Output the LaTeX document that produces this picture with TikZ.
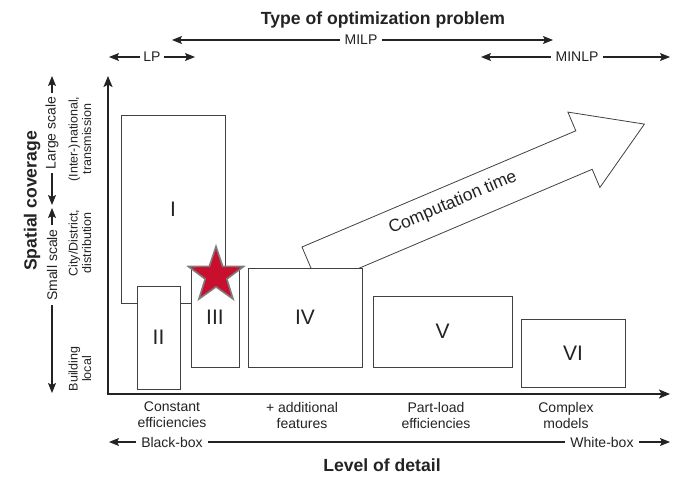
\documentclass[tikz,border=0pt]{standalone}
\usepackage{fontspec}
\setmainfont{Liberation Sans}
\usetikzlibrary{arrows.meta,shapes.geometric}
\definecolor{ink}{RGB}{35,35,35}
\definecolor{boxline}{RGB}{65,65,65}
\definecolor{starred}{RGB}{200,16,46}
\definecolor{stargray}{RGB}{125,125,125}
\begin{document}
\begin{tikzpicture}[x=1pt,y=-1pt,
  lbl/.style={font=\fontsize{14}{16}\selectfont, text=ink, inner sep=0pt},
  small/.style={font=\fontsize{12.5}{13.5}\selectfont, text=ink, inner sep=0pt},
  ttl/.style={font=\fontsize{17.6}{20}\selectfont\bfseries, text=ink, inner sep=0pt},
  num/.style={font=\fontsize{21}{24}\selectfont, text=ink},
  tipa/.tip={Stealth[length=10pt,width=8pt,inset=2pt]},
  rangearrow/.style={draw=ink, line width=1.1pt, tipa-tipa},
  gaplbl/.style={lbl, fill=white, inner xsep=5pt, inner ysep=1pt},
  region/.style={draw=boxline, line width=1pt, fill=white, num, inner sep=0pt},
  axisline/.style={draw=ink, line width=2pt, line join=miter,
    {Stealth[length=11pt,width=9pt,inset=2.5pt]}-{Stealth[length=11pt,width=9pt,inset=2.5pt]}},
  bigarrow/.style={draw=boxline, line width=0.8pt, fill=white, line join=miter},
]
\useasboundingbox (0,0) rectangle (694,492);

% ---------- top: type of optimization problem ----------
\node[ttl] (title) at (383,20) {Type of optimization problem};
\coordinate (milpL) at (172,40);
\coordinate (milpR) at (553,40);
\draw[rangearrow] (milpL) -- (milpR);
\node[gaplbl] (milp) at (361,40) {MILP};
\coordinate (lpL) at (109,57);
\coordinate (lpR) at (195,57);
\draw[rangearrow] (lpL) -- (lpR);
\node[gaplbl, inner xsep=3pt] (lp) at (152,57) {LP};
\coordinate (minlpL) at (481,57);
\coordinate (minlpR) at (670,57);
\draw[rangearrow] (minlpL) -- (minlpR);
\node[gaplbl] (minlp) at (577,57) {MINLP};

% ---------- axes ----------
\coordinate (O) at (108,394);
\coordinate (ytop) at (108,76);
\coordinate (xend) at (670,394);
\draw[axisline] (ytop) -- (O) -- (xend);

% ---------- left: spatial coverage ----------
\node[ttl, rotate=90] (ylabel) at (32,201) {Spatial coverage};
\coordinate (ssB) at (52,393);
\coordinate (ssT) at (52,208);
\draw[rangearrow] (ssB) -- (ssT);
\node[gaplbl, rotate=90, inner xsep=4pt] (smallscale) at (52,265) {Small scale};
\coordinate (lsB) at (52,205);
\coordinate (lsT) at (52,76);
\draw[rangearrow] (lsB) -- (lsT);
\node[gaplbl, rotate=90, inner xsep=4pt] (largescale) at (52,133) {Large scale};
\node[small, rotate=90, align=center] (natl) at (80,139) {(Inter-)national,\\transmission};
\node[small, rotate=90, align=center] (city) at (80,243) {City/District,\\distribution};
\node[small, rotate=90, align=center] (bldg) at (80,369) {Building\\local};

% ---------- bottom: level of detail ----------
\node[lbl, align=center] (const) at (172,415) {Constant\\efficiencies};
\node[lbl, align=center] (addf) at (302,415) {+ additional\\features};
\node[lbl, align=center] (partl) at (436,415) {Part-load\\efficiencies};
\node[lbl, align=center] (cplx) at (566,415) {Complex\\models};
\coordinate (bbL) at (109,442);
\coordinate (bbR) at (670,442);
\draw[rangearrow] (bbL) -- (bbR);
\node[gaplbl] (blackbox) at (172,442) {Black-box};
\node[gaplbl] (whitebox) at (602,442) {White-box};
\node[ttl] (xlabel) at (382,465) {Level of detail};

% ---------- computation time arrow ----------
\draw[bigarrow] (302,247) -- (575.8,130.8) -- (567.9,112.1) -- (644.4,124.1)
  -- (599.9,187.5) -- (592.2,169.3) -- (318.4,285.5) -- cycle;
\node[lbl, rotate=23, font=\fontsize{17.5}{20}\selectfont] (comptime) at (453,203) {Computation time};

% ---------- regions ----------
\node[region, minimum width=104pt, minimum height=187pt] (I) at (173,209.5) {I};
\node[region, minimum width=43pt, minimum height=103pt] (II) at (158.5,337.5) {II};
\node[region, minimum width=48pt, minimum height=99pt] (III) at (215,317.5) {III};
\node[region, minimum width=114pt, minimum height=99pt] (IV) at (305,317.5) {IV};
\node[region, minimum width=139pt, minimum height=71pt] (V) at (442.5,331.5) {V};
\node[region, minimum width=104pt, minimum height=68pt] (VI) at (573,353) {VI};

% ---------- star ----------
\node[star, star points=5, star point ratio=2.55, minimum size=58pt, inner sep=0pt,
  fill=starred, draw=stargray, line width=1.6pt] (mark) at (216,275.5) {};
\end{tikzpicture}
\end{document}
